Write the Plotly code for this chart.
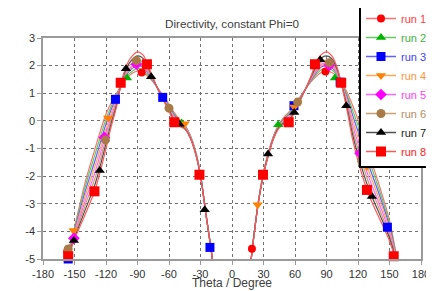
import plotly.graph_objects as go

# ---------------- data ----------------
THETA_L = [-162, -155, -150, -140, -130, -120, -115, -110, -105, -100, -95, -90, -85, -80,
           -75, -70, -60, -55, -50, -45, -40, -35, -30, -25, -20, -16]
THETA_R = [16, 20, 25, 30, 35, 40, 45, 50, 55, 60, 70, 75, 80, 85, 90, 95, 100, 105,
           110, 115, 120, 130, 140, 150, 155, 162]

RUN1_L = [-6.6, -4.6, -3.85, -2.25, -0.95, 0.25, 0.65, 1.0, 1.3, 1.55, 1.72, 1.8, 1.75, 1.6,
          1.4, 1.15, 0.6, 0.3, 0.05, -0.15, -0.5, -1.05, -1.95, -3.3, -4.6, -5.8]
RUN2_L = [-6.65, -4.64, -3.91, -2.41, -1.16, 0.07, 0.53, 0.93, 1.32, 1.62, 1.8, 1.9, 1.85, 1.65,
          1.42, 1.14, 0.56, 0.25, 0.01, -0.17, -0.51, -1.06, -1.96, -3.31, -4.61, -5.8]
RUN3_L = [-6.7, -4.67, -3.98, -2.58, -1.38, -0.11, 0.41, 0.86, 1.34, 1.7, 1.9, 2.0, 1.95, 1.72,
          1.44, 1.13, 0.53, 0.2, -0.02, -0.19, -0.53, -1.08, -1.96, -3.31, -4.61, -5.8]
RUN4_L = [-6.75, -4.71, -4.04, -2.74, -1.59, -0.29, 0.29, 0.79, 1.36, 1.75, 1.95, 2.05, 2.0, 1.76,
          1.46, 1.13, 0.49, 0.15, -0.06, -0.21, -0.54, -1.09, -1.97, -3.32, -4.62, -5.8]
RUN5_L = [-6.8, -4.74, -4.11, -2.91, -1.81, -0.46, 0.16, 0.71, 1.39, 1.8, 2.0, 2.1, 2.05, 1.8,
          1.48, 1.12, 0.46, 0.1, -0.09, -0.24, -0.56, -1.11, -1.98, -3.33, -4.63, -5.8]
RUN6_L = [-6.85, -4.78, -4.17, -3.07, -2.02, -0.64, 0.04, 0.64, 1.41, 1.88, 2.1, 2.2, 2.13, 1.86,
          1.5, 1.11, 0.42, 0.05, -0.13, -0.26, -0.57, -1.12, -1.99, -3.34, -4.64, -5.8]
RUN7_L = [-6.9, -4.81, -4.24, -3.24, -2.24, -0.82, -0.08, 0.57, 1.43, 1.95, 2.22, 2.35, 2.27, 1.93,
          1.52, 1.1, 0.39, 0.0, -0.16, -0.28, -0.59, -1.14, -1.99, -3.34, -4.64, -5.8]
RUN8_L = [-7.0, -4.85, -4.3, -3.4, -2.45, -1.0, -0.2, 0.5, 1.45, 2.05, 2.35, 2.5, 2.4, 2.0,
          1.55, 1.1, 0.35, -0.05, -0.2, -0.3, -0.6, -1.15, -2.0, -3.35, -4.65, -5.8]

RUN1_R = [-5.8, -4.4, -2.95, -1.85, -1.1, -0.5, -0.1, 0.15, 0.35, 0.6, 1.15, 1.4, 1.6, 1.75, 1.8,
          1.75, 1.6, 1.35, 1.0, 0.55, 0.05, -1.15, -2.3, -3.6, -4.55, -6.3]
RUN2_R = [-5.8, -4.41, -2.96, -1.86, -1.11, -0.51, -0.12, 0.11, 0.3, 0.56, 1.15, 1.43, 1.67, 1.85, 1.9,
          1.85, 1.66, 1.33, 0.9, 0.37, -0.16, -1.36, -2.47, -3.71, -4.61, -6.37]
RUN3_R = [-5.8, -4.41, -2.96, -1.88, -1.13, -0.53, -0.14, 0.08, 0.25, 0.53, 1.15, 1.46, 1.74, 1.95, 2.0,
          1.93, 1.7, 1.31, 0.8, 0.19, -0.38, -1.58, -2.64, -3.81, -4.66, -6.44]
RUN4_R = [-5.8, -4.42, -2.97, -1.89, -1.14, -0.54, -0.16, 0.04, 0.2, 0.49, 1.15, 1.49, 1.77, 2.0, 2.05,
          1.98, 1.73, 1.29, 0.7, 0.01, -0.59, -1.79, -2.81, -3.92, -4.72, -6.51]
RUN5_R = [-5.8, -4.43, -2.98, -1.91, -1.16, -0.56, -0.19, 0.01, 0.15, 0.46, 1.15, 1.51, 1.81, 2.05, 2.1,
          2.03, 1.76, 1.26, 0.6, -0.16, -0.81, -2.01, -2.99, -4.03, -4.78, -6.59]
RUN6_R = [-5.8, -4.44, -2.99, -1.92, -1.17, -0.57, -0.21, -0.03, 0.1, 0.42, 1.15, 1.54, 1.88, 2.13, 2.2,
          2.12, 1.82, 1.24, 0.5, -0.34, -1.02, -2.22, -3.16, -4.14, -4.84, -6.66]
RUN7_R = [-5.8, -4.44, -2.99, -1.94, -1.19, -0.59, -0.23, -0.06, 0.05, 0.39, 1.15, 1.57, 1.96, 2.27, 2.35,
          2.25, 1.88, 1.22, 0.4, -0.52, -1.24, -2.44, -3.33, -4.24, -4.89, -6.73]
RUN8_R = [-5.8, -4.45, -3.0, -1.95, -1.2, -0.6, -0.25, -0.1, 0.0, 0.35, 1.15, 1.6, 2.1, 2.4, 2.5,
          2.35, 1.95, 1.2, 0.3, -0.7, -1.45, -2.65, -3.5, -4.35, -4.95, -6.8]

# marker positions (theta, value)
MK1_T = [-157, -86, 19, 89]
MK1_V = [-4.73, 1.75, -4.63, 1.79]
MK2_T = [-100, -48, 44, 98]
MK2_V = [1.55, -0.08, -0.14, 1.55]
MK3_T = [-156, -111, -66, -21, 59, 103, 148]
MK3_V = [-5.0, 0.78, 0.85, -4.58, 0.55, 1.4, -3.85]
MK4_T = [-151, -118, -45, 24.4, 59.3, 128.5]
MK4_V = [-3.97, 0.1, -0.1, -3.04, 0.5, -1.65]
MK5_T = [-150.6, -121.5, -91, 92.6, 122]
MK5_V = [-4.25, -0.6, 2.05, 2.01, -1.17]
MK6_T = [-156, -120.5, -91, -60, 62.5, 92.6, 123.7]
MK6_V = [-4.64, -0.69, 2.18, 0.46, 0.68, 2.1, -1.47]
MK7_T = [-150.6, -126, -101, -77, -50, -26, 34.3, 59.3, 84, 108.8, 133.2]
MK7_V = [-4.33, -1.8, 1.89, 1.6, -0.12, -3.22, -1.2, 0.3, 2.21, 0.55, -2.74]
MK8_T = [-156, -131, -106, -81, -55, -31, 29.5, 54, 79, 104, 128.5, 154]
MK8_V = [-4.9, -2.55, 1.38, 2.05, -0.05, -1.95, -1.95, -0.05, 2.05, 1.38, -2.5, -4.9]

RUN_NAMES = ["run 1", "run 2", "run 3", "run 4", "run 5", "run 6", "run 7", "run 8"]
X_TICKS = [-180, -150, -120, -90, -60, -30, 0, 30, 60, 90, 120, 150, 180]
Y_TICKS = [3, 2, 1, 0, -1, -2, -3, -4, -5]
X_TITLE = "Theta / Degree"
CHART_TITLE = "Directivity, constant Phi=0"

# ---------------- style ----------------
LINE_COLORS = ["#ff7070", "#60cc60", "#6060ff", "#ffa850", "#ff66ff", "#c8a070", "#505050", "#ff5a5a"]
MARKER_COLORS = ["#ff0000", "#00b400", "#0000ff", "#ff8000", "#ff00ff", "#a87a48", "#000000", "#ff0000"]
TEXT_COLORS = ["#ff3c3c", "#3cb43c", "#3c3cff", "#ff943c", "#ff3cff", "#b48c60", "#222222", "#ff2020"]
SYMBOLS = ["circle", "triangle-up", "square", "triangle-down", "diamond", "circle", "triangle-up", "square"]
SIZES = [8, 9, 9, 9, 9, 9, 9, 10]

lines_l = [RUN1_L, RUN2_L, RUN3_L, RUN4_L, RUN5_L, RUN6_L, RUN7_L, RUN8_L]
lines_r = [RUN1_R, RUN2_R, RUN3_R, RUN4_R, RUN5_R, RUN6_R, RUN7_R, RUN8_R]
mk_t = [MK1_T, MK2_T, MK3_T, MK4_T, MK5_T, MK6_T, MK7_T, MK8_T]
mk_v = [MK1_V, MK2_V, MK3_V, MK4_V, MK5_V, MK6_V, MK7_V, MK8_V]

fig = go.Figure()

for i in range(8):
    fig.add_trace(go.Scatter(
        x=THETA_L + [None] + THETA_R,
        y=lines_l[i] + [None] + lines_r[i],
        mode="lines", line=dict(color=LINE_COLORS[i], width=1.2, shape="spline", smoothing=1.0),
        showlegend=False, hoverinfo="skip"))

for i in range(8):
    fig.add_trace(go.Scatter(
        x=mk_t[i], y=mk_v[i], mode="markers",
        marker=dict(symbol=SYMBOLS[i], size=SIZES[i], color=MARKER_COLORS[i], line=dict(width=0)),
        showlegend=False, cliponaxis=False))

for i in range(8):
    fig.add_trace(go.Scatter(
        x=[None], y=[None], mode="lines+markers",
        name=f'<span style="color:{TEXT_COLORS[i]}">{RUN_NAMES[i]}</span>',
        line=dict(color=LINE_COLORS[i], width=1.5),
        marker=dict(symbol=SYMBOLS[i], size=SIZES[i], color=MARKER_COLORS[i], line=dict(width=0))))

axis_common = dict(
    showgrid=True, gridcolor="#707070", griddash="dot", gridwidth=1,
    showline=True, mirror=True, linecolor="#9a9a9a", linewidth=1.5,
    ticks="outside", ticklen=4, tickcolor="#9a9a9a", zeroline=False,
    tickfont=dict(family="Liberation Sans", size=11, color="#333333"),
    automargin=False,
)

PLOT_L, PLOT_R, PLOT_T, PLOT_B = 35, 413, 30, 251
LEG_LEFT, LEG_TOP = 351, -6  # compensates the offset plotly adds around the legend box
XTITLE_Y = 275               # compensated centre line of the axis title

fig.update_layout(
    width=434, height=291,
    margin=dict(l=PLOT_L, r=434 - PLOT_R, t=PLOT_T, b=291 - PLOT_B, autoexpand=False),
    paper_bgcolor="white", plot_bgcolor="white",
    title=dict(text=CHART_TITLE, x=224 / 434, xanchor="center",
               y=1 - 16 / 291, yanchor="middle", yref="container", xref="container",
               font=dict(family="Liberation Sans", size=11.7, color="#404040")),
    xaxis=dict(range=[-180, 180], tickvals=X_TICKS, ticktext=[str(v) for v in X_TICKS],
               **axis_common),
    yaxis=dict(range=[-5, 3], tickvals=Y_TICKS, ticktext=[str(v) for v in Y_TICKS], **axis_common),
    annotations=[dict(text=X_TITLE, xref="paper", yref="paper", x=0.5,
                      y=(PLOT_B - XTITLE_Y) / (PLOT_B - PLOT_T), xanchor="center", yanchor="middle",
                      showarrow=False,
                      font=dict(family="Liberation Sans", size=12, color="#404040"))],
    legend=dict(x=(LEG_LEFT - PLOT_L) / (PLOT_R - PLOT_L), y=(PLOT_B - LEG_TOP) / (PLOT_B - PLOT_T),
                xanchor="left", yanchor="top", maxheight=260,
                bgcolor="white", bordercolor="#000000", borderwidth=2,
                font=dict(family="Liberation Sans", size=11, color="#333333"),
                itemwidth=30),
    showlegend=True,
)

fig.write_html("out.html")
